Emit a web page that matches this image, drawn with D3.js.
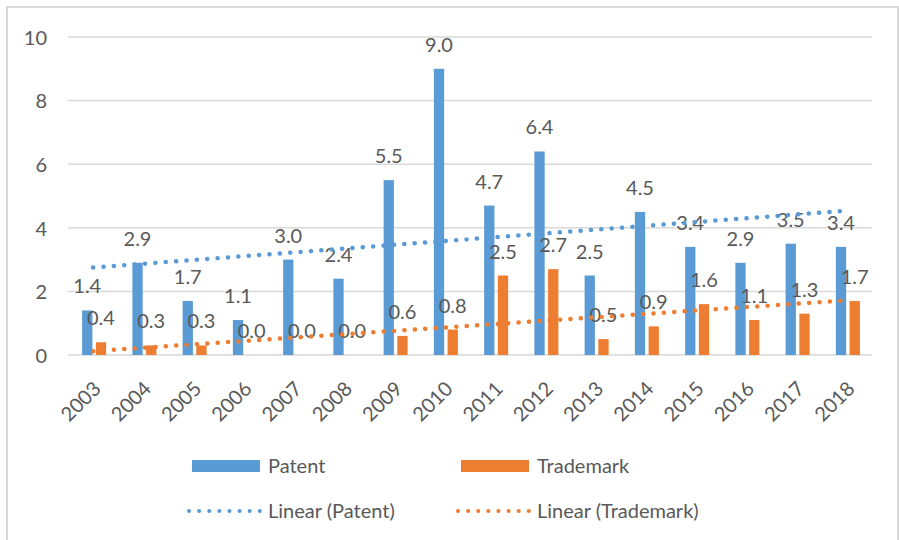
<!DOCTYPE html>
<html lang="en">
<head>
    <meta charset="UTF-8">
    <title>Patent and Trademark</title>
    <script src="https://d3js.org/d3.v7.min.js"></script>
    <style>
        body { margin: 0; background: #fff; }
        text { font-family: Lato, "Open Sans", sans-serif; fill: #595959; }
    </style>
</head>
<body>
    <script>
        // patent vs trademark per year, with linear trendlines
        var years = ['2003', '2004', '2005', '2006', '2007', '2008', '2009', '2010',
                     '2011', '2012', '2013', '2014', '2015', '2016', '2017', '2018'];
        var patent = [1.4, 2.9, 1.7, 1.1, 3.0, 2.4, 5.5, 9.0, 4.7, 6.4, 2.5, 4.5, 3.4, 2.9, 3.5, 3.4];
        var trademark = [0.4, 0.3, 0.3, 0.0, 0.0, 0.0, 0.6, 0.8, 2.5, 2.7, 0.5, 0.9, 1.6, 1.1, 1.3, 1.7];
        var yTicks = [0, 2, 4, 6, 8, 10];
        var seriesNames = ['Patent', 'Trademark'];
        var colors = { Patent: '#5B9BD5', Trademark: '#ED7D31' };

        var w = 899;
        var h = 540;
        // note: "top" is taken by window.top, so prefix these
        var plotLeft = 68, plotRight = 872, plotTop = 37, plotBottom = 355;

        var svg = d3.select('body')
                    .append('svg')
                    .attr('width', w)
                    .attr('height', h);

        // outer frame
        svg.append('rect')
           .attr('x', 7).attr('y', 7)
           .attr('width', w - 8).attr('height', h - 6)
           .attr('fill', 'none')
           .attr('stroke', '#d9d9d9')
           .attr('stroke-width', 2);

        var x0 = d3.scaleBand()
                   .domain(years)
                   .range([plotLeft, plotRight]);

        var x1 = d3.scaleBand()
                   .domain(seriesNames)
                   .range([x0.bandwidth() / 2 - 11, x0.bandwidth() / 2 + 13])
                   .paddingInner(0.25);

        var y = d3.scaleLinear()
                  .domain([0, 10])
                  .range([plotBottom, plotTop]);

        // gridlines
        svg.append('g')
           .selectAll('line')
           .data(yTicks)
           .enter()
           .append('line')
           .attr('x1', plotLeft)
           .attr('x2', plotRight)
           .attr('y1', function(d) { return y(d); })
           .attr('y2', function(d) { return y(d); })
           .attr('stroke', '#d9d9d9')
           .attr('stroke-width', 1.5);

        var yAxis = d3.axisLeft(y)
                      .tickValues(yTicks)
                      .tickSize(0)
                      .tickPadding(0);

        var gy = svg.append('g')
                    .attr('transform', 'translate(47,0)')
                    .call(yAxis);
        gy.select('.domain').remove();
        gy.attr('font-family', null).attr('font-size', null);
        gy.selectAll('text')
          .style('font-size', '20px')
          .attr('dy', '0.36em');

        var xAxis = d3.axisBottom(x0).tickSize(0);
        var gx = svg.append('g')
                    .attr('transform', 'translate(0,' + plotBottom + ')')
                    .call(xAxis);
        gx.select('.domain').remove();
        gx.attr('font-family', null).attr('font-size', null);
        gx.selectAll('text')
          .style('font-size', '20px')
          .attr('text-anchor', 'end')
          .attr('x', 0).attr('y', 0).attr('dy', 0)
          .attr('transform', 'translate(9,35) rotate(-45)');

        var rows = years.map(function(yr, i) {
            return { year: yr, Patent: patent[i], Trademark: trademark[i] };
        });

        // bars
        var groups = svg.append('g')
                        .selectAll('g')
                        .data(rows)
                        .enter()
                        .append('g')
                        .attr('transform', function(d) { return 'translate(' + x0(d.year) + ',0)'; });

        groups.selectAll('rect')
              .data(function(d) {
                  return seriesNames.map(function(s) { return { key: s, value: d[s] }; });
              })
              .enter()
              .append('rect')
              .attr('x', function(d) { return x1(d.key); })
              .attr('y', function(d) { return y(d.value); })
              .attr('width', x1.bandwidth())
              .attr('height', function(d) { return plotBottom - y(d.value); })
              .attr('fill', function(d) { return colors[d.key]; });

        // linear trendlines (least squares)
        function fit(vals) {
            var n = vals.length;
            var mx = d3.mean(d3.range(n));
            var my = d3.mean(vals);
            var sxy = 0, sxx = 0;
            for (var i = 0; i < n; i++) {
                sxy += (i - mx) * (vals[i] - my);
                sxx += (i - mx) * (i - mx);
            }
            var b = sxy / sxx;
            return [my - b * mx, my + b * (n - 1 - mx)];
        }

        [['Patent', patent], ['Trademark', trademark]].forEach(function(s) {
            var ends = fit(s[1]);
            svg.append('line')
               .attr('x1', x0(years[0]) + x0.bandwidth() / 2)
               .attr('x2', x0(years[years.length - 1]) + x0.bandwidth() / 2)
               .attr('y1', y(ends[0]))
               .attr('y2', y(ends[1]))
               .attr('stroke', colors[s[0]])
               .attr('stroke-width', 4.5)
               .attr('stroke-linecap', 'round')
               .attr('stroke-dasharray', '0.1 10.3');
        });

        // data labels
        groups.selectAll('text')
              .data(function(d) {
                  return seriesNames.map(function(s) { return { key: s, value: d[s] }; });
              })
              .enter()
              .append('text')
              .attr('x', function(d) { return x1(d.key) + x1.bandwidth() / 2; })
              .attr('y', function(d) { return y(d.value) - 17; })
              .attr('text-anchor', 'middle')
              .style('font-size', '20px')
              .text(function(d) { return d.value.toFixed(1); });

        // legend
        var legend = [
            { label: 'Patent', type: 'bar', color: colors.Patent, x: 192, y: 466 },
            { label: 'Trademark', type: 'bar', color: colors.Trademark, x: 461, y: 466 },
            { label: 'Linear (Patent)', type: 'dot', color: colors.Patent, x: 192, y: 511 },
            { label: 'Linear (Trademark)', type: 'dot', color: colors.Trademark, x: 461, y: 511 }
        ];

        var lg = svg.append('g')
                    .selectAll('g')
                    .data(legend)
                    .enter()
                    .append('g')
                    .attr('transform', function(d) { return 'translate(' + d.x + ',' + d.y + ')'; });

        lg.filter(function(d) { return d.type === 'bar'; })
          .append('rect')
          .attr('x', 0).attr('y', -6)
          .attr('width', 68).attr('height', 12)
          .attr('fill', function(d) { return d.color; });

        lg.filter(function(d) { return d.type === 'dot'; })
          .append('line')
          .attr('x1', -3).attr('x2', 68)
          .attr('y1', 0).attr('y2', 0)
          .attr('stroke', function(d) { return d.color; })
          .attr('stroke-width', 4)
          .attr('stroke-linecap', 'round')
          .attr('stroke-dasharray', '0.1 10');

        lg.append('text')
          .attr('x', 76)
          .attr('y', 7)
          .style('font-size', '20px')
          .text(function(d) { return d.label; });
    </script>
</body>
</html>
